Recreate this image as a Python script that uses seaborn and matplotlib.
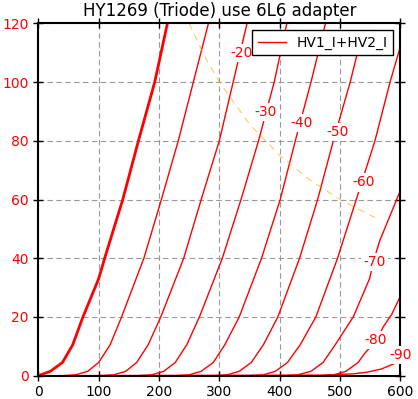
import matplotlib
matplotlib.use("Agg")
import matplotlib.pyplot as plt
import seaborn as sns
import pandas as pd

# ---- data ----
grid_voltages = [0, -10, -20, -30, -40, -50, -60, -70, -80, -90]

va_g0 = [0, 20, 40, 57, 74, 100, 110, 140, 166, 193, 214]
ia_g0 = [0, 1.5, 4.5, 10.5, 20, 33, 40, 60, 80, 100, 120]

va_g10 = [0, 40, 62, 82, 100, 119, 138, 175, 204, 232, 257, 282]
ia_g10 = [0, 0, 0.3, 1.5, 4.5, 10.5, 20, 40, 60, 80, 100, 120]

va_g20 = [0, 100, 125, 145, 163, 182, 203, 241, 270, 300, 323, 346]
ia_g20 = [0, 0, 0.3, 1.5, 4.5, 10.5, 20, 40, 60, 80, 100, 120]

va_g30 = [0, 165, 188, 208, 227, 246, 267, 305, 336, 365, 391, 412]
ia_g30 = [0, 0, 0.3, 1.5, 4.5, 10.5, 20, 40, 60, 80, 100, 120]

va_g40 = [0, 228, 250, 270, 290, 309, 333, 370, 401, 426, 452, 476]
ia_g40 = [0, 0, 0.3, 1.5, 4.5, 10.5, 20, 40, 60, 80, 100, 120]

va_g50 = [0, 290, 313, 333, 353, 373, 397, 433, 463, 489, 517, 535]
ia_g50 = [0, 0, 0.3, 1.5, 4.5, 10.5, 20, 40, 60, 80, 100, 115]

va_g60 = [0, 350, 373, 393, 413, 434, 460, 496, 527, 558, 583, 600]
ia_g60 = [0, 0, 0.3, 1.5, 4.5, 10.5, 20, 40, 60, 80, 100, 112]

va_g70 = [0, 410, 430, 452, 472, 492, 522, 549, 557, 566, 594, 600]
ia_g70 = [0, 0, 0.3, 1.5, 4.5, 10.5, 20, 33, 40, 46, 60, 63]

va_g80 = [0, 470, 490, 510, 530, 541, 560, 572, 586, 600]
ia_g80 = [0, 0, 0.3, 1.5, 4.5, 7.6, 12, 16.7, 21, 27]

va_g90 = [0, 470, 520, 545, 569, 600]
ia_g90 = [0, 0.2, 0.6, 1.2, 2.3, 5]

curves_va = [va_g0, va_g10, va_g20, va_g30, va_g40, va_g50, va_g60, va_g70, va_g80, va_g90]
curves_ia = [ia_g0, ia_g10, ia_g20, ia_g30, ia_g40, ia_g50, ia_g60, ia_g70, ia_g80, ia_g90]

# plate dissipation limit (dashed orange)
pd_va = [250, 275, 300, 350, 400, 450, 500, 566]
pd_ia = [120, 109, 100, 85.7, 75, 66.7, 60, 53]

# curve labels: (text, V, I)
label_text = ["-20", "-30", "-40", "-50", "-60", "-70", "-80", "-90"]
label_va = [337, 377, 437, 496, 539, 557, 559, 600]
label_ia = [109.8, 89.7, 86, 82.9, 65.8, 38.8, 12.2, 7.0]

x_ticks = [0, 100, 200, 300, 400, 500, 600]
y_ticks = [0, 20, 40, 60, 80, 100, 120]

title = "HY1269 (Triode) use 6L6 adapter"
legend_label = "HV1_I+HV2_I"

# ---- drawing ----
fig = plt.figure(figsize=(4.18, 3.99), dpi=100)
ax = fig.add_axes([38.3 / 418, (399 - 375.7) / 399, (400.3 - 38.3) / 418, (375.7 - 23.3) / 399])

ax.grid(True, color="#999999", linestyle=(0, (5, 3)), linewidth=0.8)
ax.set_axisbelow(True)

for k, (vg, va, ia) in enumerate(zip(grid_voltages, curves_va, curves_ia)):
    df = pd.DataFrame({"Va": va, "Ia": ia})
    lbl = legend_label if vg == -10 else "_nolegend_"
    sns.lineplot(data=df, x="Va", y="Ia", ax=ax, color="red",
                 linewidth=2.0 if vg == 0 else 1.0, sort=False,
                 estimator=None, label=lbl, zorder=2)

dfp = pd.DataFrame({"Va": pd_va, "Ia": pd_ia})
sns.lineplot(data=dfp, x="Va", y="Ia", ax=ax, color="orange", alpha=0.6,
             linewidth=0.8, sort=False, estimator=None, zorder=2,
             label="_nolegend_", linestyle=(0, (6, 5)))

for t, v, i in zip(label_text, label_va, label_ia):
    ax.text(v, i, t, color="red", fontsize=10, ha="center", va="center",
            bbox=dict(facecolor="white", edgecolor="none", pad=1.5),
            clip_on=False, zorder=4)

ax.set_xlim(0, 600)
ax.set_ylim(0, 120)
ax.set_xticks(x_ticks)
ax.set_yticks(y_ticks)
ax.set_xlabel("")
ax.set_ylabel("")
ax.tick_params(direction="inout", length=7, width=1, top=True, right=True,
               labelsize=10)
ax.tick_params(axis="y", labelcolor="red")
for s in ax.spines.values():
    s.set_linewidth(1.5)
    s.set_color("black")

leg = ax.legend(loc="upper right", fontsize=10, fancybox=False,
                edgecolor="black", framealpha=1.0, borderaxespad=0.5)
leg.get_frame().set_linewidth(1.0)
leg.set_zorder(5)

ax.set_title(title, fontsize=12, pad=5)

fig.savefig("out.png", dpi=100)
